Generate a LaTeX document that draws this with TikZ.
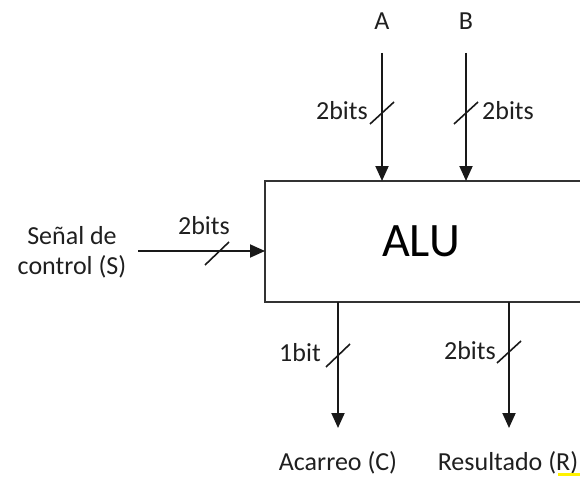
\documentclass[tikz,border=0pt]{standalone}
\usepackage{fontspec}
\setmainfont{Carlito}
\usetikzlibrary{arrows.meta}
\tikzset{
  lbl/.style={inner sep=0pt, text=black!88, font=\fontsize{26}{30}\selectfont},
  big/.style={inner sep=0pt, text=black, font=\fontsize{48}{56}\selectfont},
  sig/.style={line width=1.9pt, draw=black!90, -{Triangle[width=13pt,length=15pt]}},
  slash/.style={line width=1.6pt, draw=black!90},
  alubox/.style={line width=1.9pt, draw=black!80}
}
\begin{document}
\begin{tikzpicture}[x=1pt,y=-1pt]
\useasboundingbox (0,0) rectangle (580,476);
% box
\draw[alubox] (590,181) -- (265,181) -- (265,302) -- (590,302);
\node[big] (alu) at (421,241) {ALU};
\coordinate (boxtopA) at (382,181);
\coordinate (boxtopB) at (466,181);
\coordinate (boxleft) at (265,251);
\coordinate (boxbotC) at (338,302);
\coordinate (boxbotR) at (509,302);
% inputs
\node[lbl] (A) at (382,21) {A};
\node[lbl] (B) at (466,21) {B};
\coordinate (Astart) at (382,53);
\coordinate (Bstart) at (466,53);
\draw[sig] (Astart) -- (boxtopA);
\draw[sig] (Bstart) -- (boxtopB);
\draw[slash] (370,124) -- (394,102);
\draw[slash] (454,124) -- (478,102);
\node[lbl] (wa) at (342,111) {2bits};
\node[lbl] (wb) at (508,111) {2bits};
% control
\node[lbl, align=center] (S) at (72,252) {Señal de\\control (S)};
\coordinate (Sstart) at (138,251);
\draw[sig] (Sstart) -- (boxleft);
\draw[slash] (205,265) -- (229,242);
\node[lbl] (ws) at (204,226) {2bits};
% outputs
\coordinate (Cend) at (338,428);
\coordinate (Rend) at (509,428);
\draw[sig] (boxbotC) -- (Cend);
\draw[sig] (boxbotR) -- (Rend);
\draw[slash] (326,367) -- (350,344);
\draw[slash] (497,363) -- (521,341);
\node[lbl] (wc) at (300,353) {1bit};
\node[lbl] (wr) at (470,351) {2bits};
\node[lbl] (C) at (338,463) {Acarreo (C)};
\node[lbl] (R) at (508,463) {Resultado (R)};
\fill[yellow] (558,473) rectangle (580,476);
\end{tikzpicture}
\end{document}
